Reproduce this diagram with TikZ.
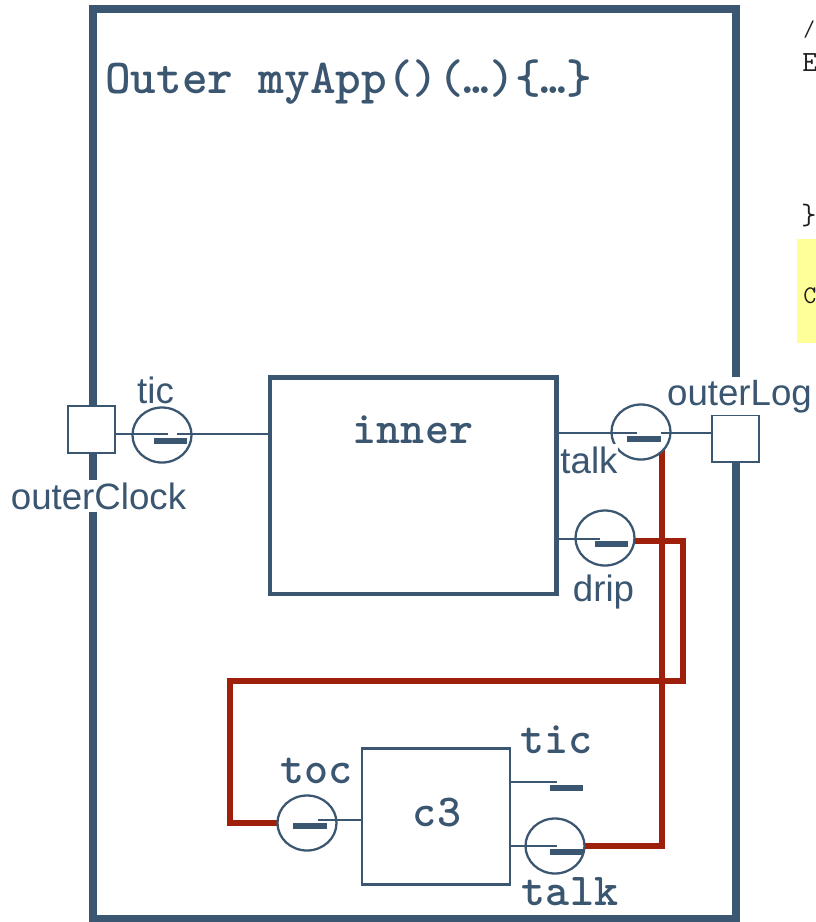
\documentclass[tikz,border=0pt]{standalone}
\usepackage{fontspec}
\setmainfont{Liberation Sans}
\usetikzlibrary{shapes.geometric,calc}
\definecolor{slate}{RGB}{59,86,112}
\definecolor{wirered}{RGB}{158,31,10}
\definecolor{codeyellow}{RGB}{255,255,153}
\definecolor{codeink}{RGB}{30,30,30}
\tikzset{
  frame/.style={draw=slate,line width=6pt,fill=white,rectangle,inner sep=0pt},
  compbox/.style={draw=slate,fill=white,rectangle,inner sep=0pt},
  extsquare/.style={draw=slate,line width=1.6pt,fill=white,rectangle,inner sep=0pt,minimum size=35.25pt},
  portcirc/.style={draw=slate,line width=1.7pt,fill=white,ellipse,inner sep=0pt,minimum width=44.25pt,minimum height=41.25pt},
  wire/.style={draw=slate,line width=2pt},
  portbar/.style={draw=slate,line width=4pt},
  redwire/.style={draw=wirered,line width=4.5pt},
  sanslabel/.style={font=\fontsize{27.5}{30}\selectfont,text=slate,inner xsep=0pt,inner ysep=2pt,anchor=base,fill=white},
  monolabel/.style={font=\ttfamily\bfseries\fontsize{34.3}{36}\selectfont,text=slate,inner sep=0pt,anchor=base},
  codetext/.style={font=\ttfamily\fontsize{22}{24}\selectfont,text=codeink,inner sep=0pt,anchor=base west},
}
\begin{document}
\begin{tikzpicture}[x=0.75pt,y=-0.75pt]
\useasboundingbox (0,0) rectangle (816,922);
\clip (0,0) rectangle (816,922);
\fill[white] (0,0) rectangle (816,922);

% code fragments at right edge
\fill[codeyellow] (797,239) rectangle (830,343);
\node[codetext,font=\ttfamily\fontsize{17}{19}\selectfont] (cslash) at (803,36) {/};
\node[codetext] (cE) at (802,71) {E};
\node[codetext] (cbrace) at (801,224) {\}};
\node[codetext,font=\ttfamily\fontsize{19}{21}\selectfont] (cC) at (803,303) {C};

% outer frame
\node[frame,minimum width=481.9pt,minimum height=682.5pt] (outer) at (414.25,464) {};
\node[monolabel,anchor=base west,font=\ttfamily\bfseries\fontsize{36.6}{38}\selectfont] (title) at (105,93) {Outer myApp()(…)\{…\}};

% components
\node[compbox,line width=3.6pt,minimum width=214.9pt,minimum height=162.4pt] (inner) at (413.25,485.75) {};
\node[monolabel] (innerlbl) at (413,443) {inner};
\node[compbox,line width=2pt,minimum width=111pt,minimum height=102pt] (c3) at (436,816.7) {};
\node[monolabel] (c3lbl) at (437,826) {c3};

% external ports
\node[extsquare] (oc) at (91.5,429.5) {};
\node[extsquare] (ol) at (735.5,438.5) {};

% red wires (drawn under the port circles)
\coordinate (rv) at (662,432);
\coordinate (r1) at (683,541);
\coordinate (r2) at (230,681);
\coordinate (pTicC) at (162,435);
\coordinate (pTalkC) at (641,432);
\coordinate (pDripC) at (605,538);
\coordinate (pTocC) at (307,823);
\coordinate (pCTalkC) at (555,846);
\draw[redwire] (pCTalkC) -| (rv);
\draw[redwire] (pDripC |- r1) -- (r1) |- (r2) |- (pTocC);
% port circles above red wires
\node[portcirc] (pTic) at (pTicC) {};
\node[portcirc] (pTalk) at (pTalkC) {};
\node[portcirc] (pDrip) at (pDripC) {};
\node[portcirc] (pToc) at (pTocC) {};
\node[portcirc] (pCTalk) at (pCTalkC) {};

% tic (outer left)
\coordinate (t1) at (168,434);
\coordinate (t2) at (177,434);
\draw[wire] (t1 -| oc.east) -- (t1);
\draw[wire] (t2) -- (t2 -| inner.west);
\draw[portbar] (154,441) -- (187,441);

% talk (inner right)
\coordinate (k1) at (637,433);
\coordinate (k2) at (661,433);
\draw[wire] (k1 -| inner.east) -- (k1);
\draw[wire] (k2) -- (k2 -| ol.west);
\draw[portbar] (627,439) -- (661,439);

% drip
\coordinate (d1) at (600,539);
\draw[wire] (d1 -| inner.east) -- (d1);
\draw[portbar] (595,544) -- (628,544);

% toc
\coordinate (o1) at (318,820);
\draw[wire] (o1 -| c3.west) -- (o1);
\draw[portbar] (293,826) -- (327,826);

% c3 tic
\coordinate (i1) at (557,782);
\draw[wire] (i1 -| c3.east) -- (i1);
\draw[portbar] (550,788) -- (583,788);

% c3 talk
\coordinate (a1) at (557,846);
\draw[wire] (a1 -| c3.east) -- (a1);
\draw[portbar] (550,852) -- (583,852);

% labels
\node[sanslabel] (lTic) at (155.5,403) {tic};
\node[sanslabel] (lOC) at (98.5,509) {outerClock};
\node[sanslabel] (lTalk) at (589,473) {talk};
\node[sanslabel] (lOL) at (739.5,405) {outerLog};
\node[sanslabel] (lDrip) at (603.5,601) {drip};
\node[monolabel] (lToc) at (316.5,783) {toc};
\node[monolabel] (lCTic) at (556.5,753) {tic};
\node[monolabel] (lCTalk) at (570,905) {talk};
\end{tikzpicture}
\end{document}
